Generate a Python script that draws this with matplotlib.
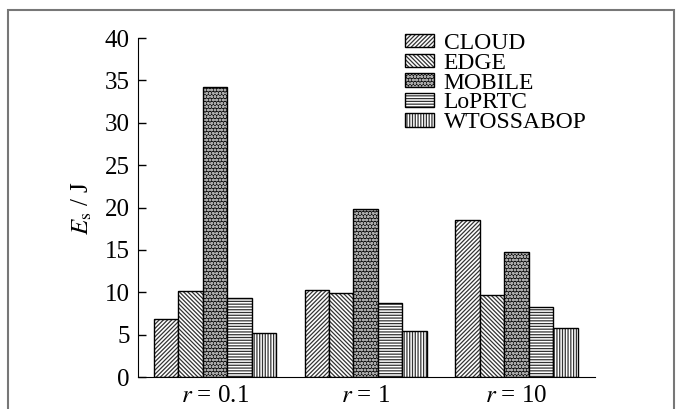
import matplotlib
matplotlib.use("Agg")
import matplotlib.pyplot as plt
import numpy as np
from matplotlib.patches import Rectangle

plt.rcParams['font.family'] = ['Liberation Serif', 'DejaVu Serif']
plt.rcParams['mathtext.fontset'] = 'stix'
plt.rcParams['hatch.linewidth'] = 0.9

groups = [r'$r$ = 0.1', r'$r$ = 1', r'$r$ = 10']
methods = ['CLOUD', 'EDGE', 'MOBILE', 'LoPRTC', 'WTOSSABOP']
cloud = [6.8, 10.3, 18.5]
edge = [10.2, 9.9, 9.7]
mobile = [34.2, 19.8, 14.8]
loprtc = [9.3, 8.7, 8.3]
wtossabop = [5.2, 5.4, 5.8]
series = [cloud, edge, mobile, loprtc, wtossabop]

hatches = ['////////', '\\\\\\\\\\\\\\\\', 'ooooo', '------', '||||||']
faces = ['white', 'white', '#111111', 'white', 'white']
hcols = ['#333333', '#333333', '#aaaaaa', '#333333', '#333333']

fig = plt.figure(figsize=(6.83, 4.09), dpi=100)
ax = fig.add_axes([0.202, 0.078, 0.669, 0.829])

x = np.arange(len(groups))
w = 0.162
handles = []
for i, vals in enumerate(series):
    pos = x + (i - 2) * w
    b1 = ax.bar(pos, vals, w, color=faces[i], edgecolor=hcols[i], hatch=hatches[i], linewidth=0)
    b2 = ax.bar(pos, vals, w, fill=False, edgecolor='black', linewidth=1.0)
    handles.append((b1[0], b2[0]))

ax.set_xlim(-0.51, 2.52)
ax.set_ylim(0, 40)
ax.set_yticks(range(0, 41, 5))
ax.set_xticks(x)
ax.set_xticklabels(groups)
ax.tick_params(axis='y', direction='in', length=6, labelsize=18, width=1, pad=6)
ax.tick_params(axis='x', length=0, labelsize=18, pad=6)
ax.spines['top'].set_visible(False)
ax.spines['right'].set_visible(False)
ax.set_ylabel(r'$E_{\rm s}$ / J', fontsize=18, labelpad=8)

ax.legend(handles, methods, loc='upper left', bbox_to_anchor=(0.584, 1.015),
          frameon=False, fontsize=17, handlelength=1.25, handleheight=0.5,
          labelspacing=-0.05, handletextpad=0.4, borderaxespad=0, borderpad=0)

fig.patches.append(Rectangle((8 / 683, -0.1), 666 / 683, 1.1 - 10 / 409,
                             transform=fig.transFigure, fill=False,
                             edgecolor='#777777', linewidth=1.5))

fig.savefig('out.png', dpi=100)
